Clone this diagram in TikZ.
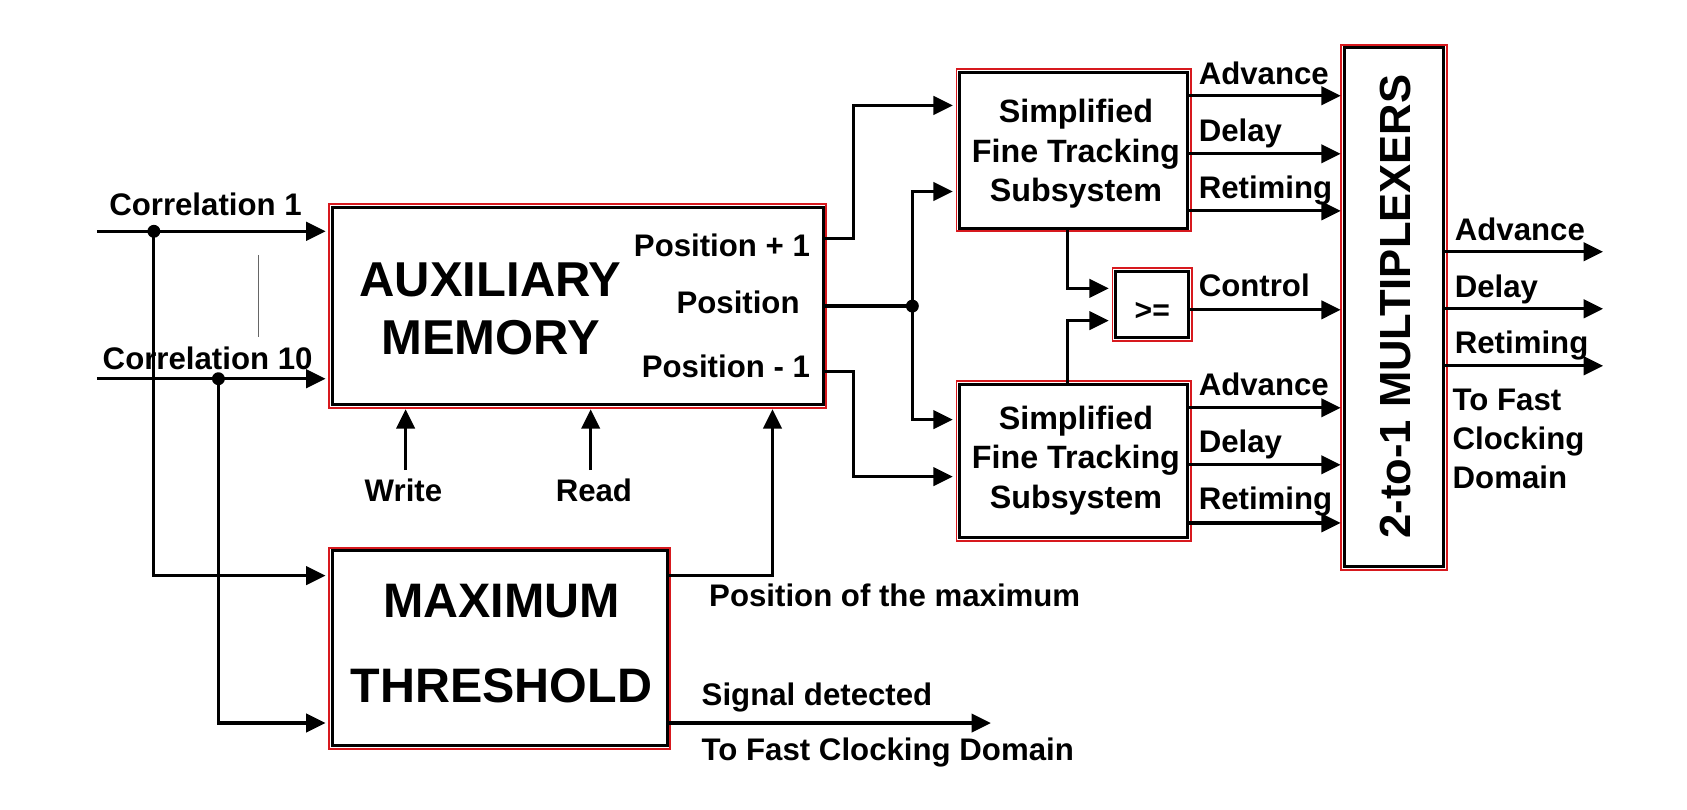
\documentclass[tikz,border=0pt]{standalone}
\usepackage{fontspec}
\setmainfont{Liberation Sans}
\usetikzlibrary{arrows.meta,calc}
\definecolor{bred}{RGB}{215,25,30}
\newcommand\redframe[1]{\draw[bred,line width=1.8pt] ([shift={(-1.6pt,-1.6pt)}]#1.south west) rectangle ([shift={(1.6pt,1.6pt)}]#1.north east);}
\begin{document}
\begin{tikzpicture}[x=1pt,y=-1pt,
  ln/.style={line width=3pt},
  arr/.style={line width=3pt,-{Triangle[length=18pt,width=17pt]},shorten >=5pt},
  box/.style={draw=black,line width=2.8pt,fill=white,inner sep=0pt},
  lab/.style={font=\fontsize{29}{34}\selectfont\bfseries,inner sep=0pt,text height=21pt,text depth=0pt},
  blab/.style={font=\fontsize{30}{36.5}\selectfont\bfseries,inner sep=0pt,align=center},
  big/.style={font=\fontsize{45.5}{54}\selectfont\bfseries,inner sep=0pt,align=center},
  dot/.style={circle,fill=black,inner sep=0pt,minimum size=12pt}]
\useasboundingbox (0,0) rectangle (1568,752);
% boxes
\node[box,minimum width=456pt,minimum height=183pt] (aux) at (537,284.5) {};
\node[box,minimum width=311pt,minimum height=181pt] (max) at (464.5,602.5) {};
\node[box,minimum width=212pt,minimum height=145pt] (sts1) at (998,139.5) {};
\node[box,minimum width=212pt,minimum height=143pt] (sts2) at (998,428.5) {};
\node[box,minimum width=68pt,minimum height=62pt] (cmp) at (1071,283) {};
\node[box,minimum width=92pt,minimum height=482pt] (mux) at (1295.5,285.5) {};
\redframe{aux}\redframe{max}\redframe{sts1}\redframe{sts2}\redframe{cmp}\redframe{mux}
% box texts
\node[big] (auxt) at (456,287) {AUXILIARY\\MEMORY};
\node[big,font=\fontsize{45}{79}\selectfont\bfseries] (maxt) at (466,598) {MAXIMUM\\THRESHOLD};
\node[blab] (sts1t) at (1000,143) {Simplified\\Fine Tracking\\Subsystem};
\node[blab] (sts2t) at (1000,428) {Simplified\\Fine Tracking\\Subsystem};
\node[lab,font=\fontsize{28}{34}\selectfont\bfseries] (cmpt) at (1071,287) {>=};
\node[inner sep=0pt,rotate=90,font=\fontsize{40.5}{46}\selectfont\bfseries] (muxt) at (1297,285) {2-to-1 MULTIPLEXERS};
% inputs
\coordinate (in1) at (90,215);
\coordinate (in10) at (90,352);
\node[dot] (j1) at (143,215) {};
\node[dot] (j10) at (203,352) {};
\draw[arr] (in1) -- (aux.west|-in1);
\draw[arr] (in10) -- (aux.west|-in10);
\coordinate (mi1) at ([yshift=67.5pt]max.west);
\coordinate (mi2) at ([yshift=-69.5pt]max.west);
\draw[arr] (j1.center) |- (mi1);
\draw[arr] (j10.center) |- (mi2);
\node[lab] (c1) at (191,190) {Correlation 1};
\node[lab] (c10) at (193,333) {Correlation 10};
\draw[black!60,line width=0.8pt] (240,237) -- (240,313);
% aux labels
\node[lab,anchor=east] (p1t) at (753,228) {Position + 1};
\node[lab] (p0t) at (686,281) {Position};
\node[lab,anchor=east] (pm1t) at (753,340) {Position - 1};
% write / read
\coordinate (wr) at (377,437);
\coordinate (rd) at (549,437);
\draw[arr,shorten >=3pt] (wr) -- (wr|-aux.south);
\draw[arr,shorten >=3pt] (rd) -- (rd|-aux.south);
\node[lab] (wrt) at (375,456) {Write};
\node[lab] (rdt) at (552,456) {Read};
% position of maximum
\coordinate (mo1) at ([yshift=67.5pt]max.east);
\coordinate (pmx) at ([xshift=181pt]aux.south);
\draw[arr,shorten >=3pt] (mo1) -| (pmx);
\node[lab,anchor=west] (pmaxt) at (659,553) {Position of the maximum};
% signal detected
\coordinate (mo2) at ([yshift=-69.5pt]max.east);
\coordinate (sde) at (926,672);
\draw[arr] (mo2) -- (sde);
\node[lab,anchor=west] (sdt) at (652,645) {Signal detected};
\node[lab,anchor=west] (tfd) at (652,696) {To Fast Clocking Domain};
% aux outputs
\coordinate (po1) at ([yshift=62.5pt]aux.east);
\coordinate (po0) at (aux.east);
\coordinate (pom) at ([yshift=-60.5pt]aux.east);
\coordinate (xb) at (793,0);
\node[dot] (jp) at (848,284.5) {};
\coordinate (s1i1) at ([yshift=41.5pt]sts1.west);
\coordinate (s1i2) at ([yshift=-38.5pt]sts1.west);
\coordinate (s2i1) at ([yshift=38.5pt]sts2.west);
\coordinate (s2i2) at ([yshift=-14.5pt]sts2.west);
\draw[arr] (po1) -- (po1-|xb) |- (s1i1);
\draw[ln] (po0) -- (jp.center);
\draw[arr] (jp.center) |- (s1i2);
\draw[arr] (jp.center) |- (s2i1);
\draw[arr] (pom) -- (pom-|xb) |- (s2i2);
% comparator
\coordinate (ci1) at ([yshift=15pt]cmp.west);
\coordinate (ci2) at ([yshift=-15pt]cmp.west);
\draw[arr] ([xshift=-6pt]sts1.south) |- (ci1);
\draw[arr] ([xshift=-6pt]sts2.north) |- (ci2);
\coordinate (co) at ([yshift=-5pt]cmp.east);
\draw[arr,shorten >=2pt] (co) -- (co-|mux.west);
\node[lab,anchor=west] (ctl) at (1114,265) {Control};
% sts outputs
\coordinate (a1) at ([yshift=50.5pt]sts1.east);
\coordinate (d1) at ([yshift=-3.5pt]sts1.east);
\coordinate (r1) at ([yshift=-56.5pt]sts1.east);
\coordinate (a2) at ([yshift=49.5pt]sts2.east);
\coordinate (d2) at ([yshift=-3.5pt]sts2.east);
\coordinate (r2) at ([yshift=-57.5pt]sts2.east);
\foreach \p in {a1,d1,r1,a2,d2,r2} \draw[arr,shorten >=2pt] (\p) -- (\p-|mux.west);
\node[lab,anchor=west] (a1t) at (1114,68) {Advance};
\node[lab,anchor=west] (d1t) at (1114,121) {Delay};
\node[lab,anchor=west] (r1t) at (1114,174) {Retiming};
\node[lab,anchor=west] (a2t) at (1114,357) {Advance};
\node[lab,anchor=west] (d2t) at (1114,410) {Delay};
\node[lab,anchor=west] (r2t) at (1114,463) {Retiming};
% mux outputs
\coordinate (ma) at ([yshift=51.5pt]mux.east);
\coordinate (md) at ([yshift=-1.5pt]mux.east);
\coordinate (mr) at ([yshift=-54.5pt]mux.east);
\coordinate (ex) at (1490,0);
\foreach \p in {ma,md,mr} \draw[arr,shorten >=0pt] (\p) -- (\p-|ex);
\node[lab,anchor=west] (mat) at (1352,213) {Advance};
\node[lab,anchor=west] (mdt) at (1352,266) {Delay};
\node[lab,anchor=west] (mrt) at (1352,318) {Retiming};
\node[lab,anchor=west,align=left,font=\fontsize{29}{36}\selectfont\bfseries,text height=,text depth=] (tft) at (1350,408) {To Fast\\Clocking\\Domain};
\end{tikzpicture}
\end{document}
